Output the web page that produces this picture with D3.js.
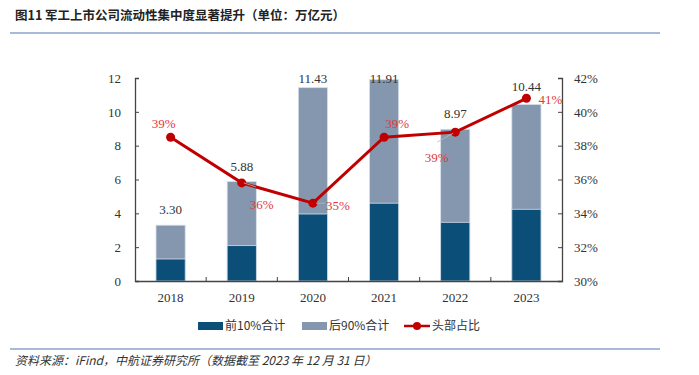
<!DOCTYPE html>
<html>
<head>
<meta charset="utf-8">
<script src="https://cdn.jsdelivr.net/npm/d3@7"></script>
<style>
  body { margin: 0; background: #fff; }
  svg text { font-family: "Liberation Serif", "Noto Sans CJK SC", serif; }
</style>
</head>
<body>
<div id="chart"></div>
<script>
// chart data
var years = ['2018', '2019', '2020', '2021', '2022', '2023'];
var top10 = [1.30, 2.09, 3.96, 4.60, 3.47, 4.24];
var totals = [3.30, 5.88, 11.43, 11.91, 8.97, 10.44];
var share = [38.5, 35.8, 34.6, 38.5, 38.8, 40.8];
var shareLabels = ['39%', '36%', '35%', '39%', '39%', '41%'];
var leftTicks = [0, 2, 4, 6, 8, 10, 12];
var rightTicks = [30, 32, 34, 36, 38, 40, 42];

var svgWidth = 699, svgHeight = 375;
var margin = {top: 78, left: 135, right: 137, bottom: 94};
var width = svgWidth - margin.left - margin.right,
    height = svgHeight - margin.top - margin.bottom;

var darkBlue = '#0b4f79', lightBlue = '#8497ae', red = '#c00000', labelRed = '#e0383c';

var svg = d3.select('#chart').append('svg')
    .attr('width', svgWidth)
    .attr('height', svgHeight);

// title + rules
svg.append('text')
    .attr('x', 15).attr('y', 20)
    .style('font-family', '"Noto Sans CJK SC"')
    .style('font-weight', 'bold')
    .attr('font-size', 12.5)
    .attr('fill', '#222')
    .text('图11  军工上市公司流动性集中度显著提升（单位：万亿元）');
svg.append('line').attr('x1', 10).attr('x2', 660).attr('y1', 33).attr('y2', 33)
    .attr('stroke', '#8ea0cc').attr('stroke-width', 1.5);
svg.append('line').attr('x1', 10).attr('x2', 660).attr('y1', 349).attr('y2', 349)
    .attr('stroke', '#8ea0cc').attr('stroke-width', 1.5);
svg.append('text')
    .attr('x', 15).attr('y', 365)
    .style('font-family', '"Noto Sans CJK SC"')
    .style('font-style', 'italic')
    .attr('font-size', 12)
    .attr('fill', '#333')
    .text('资料来源：iFind，中航证券研究所（数据截至 2023 年 12 月 31 日）');

var g = svg.append('g').attr('transform', `translate(${margin.left}, ${margin.top})`);

var x = d3.scaleBand().domain(years).range([0, width]).paddingInner(0.59).paddingOuter(0.295);
var xOuter = d3.scaleBand().domain(years).range([0, width]);
var y = d3.scaleLinear().domain([0, 12]).range([height, 0]);
var y2 = d3.scaleLinear().domain([30, 42]).range([height, 0]);

// bars: light total then dark top 10%
g.selectAll('.bar-total').data(years).enter().append('rect')
    .attr('x', d => x(d)).attr('width', x.bandwidth())
    .attr('y', (d, i) => y(totals[i]))
    .attr('height', (d, i) => y(0) - y(totals[i]))
    .attr('fill', lightBlue)
    .attr('stroke', '#d8e0ea').attr('stroke-width', 0.8);
g.selectAll('.bar-top').data(years).enter().append('rect')
    .attr('x', d => x(d)).attr('width', x.bandwidth())
    .attr('y', (d, i) => y(top10[i]))
    .attr('height', (d, i) => y(0) - y(top10[i]))
    .attr('fill', darkBlue)
    .attr('stroke', '#d8e0ea').attr('stroke-width', 0.8);

// total labels (baseline offset from bar top; tall bars get pushed down)
var totalOffsets = [-11, -11, -5, 3, -11, -13.5];
g.selectAll('.tot').data(years).enter().append('text')
    .attr('x', d => x(d) + x.bandwidth() / 2)
    .attr('y', (d, i) => y(totals[i]) + totalOffsets[i])
    .attr('text-anchor', 'middle')
    .attr('font-size', 13)
    .attr('fill', '#333')
    .text((d, i) => totals[i].toFixed(2));

// axes
var axisColor = '#444';
var leftAxis = g.append('g').call(d3.axisLeft(y).tickValues(leftTicks).tickSize(-4).tickPadding(14));
var rightAxis = g.append('g').attr('transform', `translate(${width},0)`)
    .call(d3.axisRight(y2).tickValues(rightTicks).tickSize(-4).tickPadding(12).tickFormat(d => d + '%'));
var bottomAxis = g.append('g').attr('transform', `translate(0,${height})`)
    .call(d3.axisBottom(xOuter).tickSize(0).tickPadding(12));
// category separators
g.selectAll('.sep').data(years.slice(1)).enter().append('line')
    .attr('x1', d => xOuter(d)).attr('x2', d => xOuter(d))
    .attr('y1', height).attr('y2', height - 4)
    .attr('stroke', axisColor);
[leftAxis, rightAxis, bottomAxis].forEach(function(a) {
    a.select('.domain').attr('stroke', axisColor).attr('stroke-width', 1.3);
    a.selectAll('.tick line').attr('stroke', axisColor);
    a.selectAll('text').attr('font-size', 13).attr('fill', '#333')
        .style('font-family', '"Liberation Serif", serif');
});

// share line
var cx = d => x(d) + x.bandwidth() / 2;
var line = d3.line().x(d => cx(d)).y((d, i) => y2(share[i]));
g.append('path').datum(years).attr('d', line)
    .attr('fill', 'none').attr('stroke', red).attr('stroke-width', 3);
g.selectAll('.dot').data(years).enter().append('circle')
    .attr('cx', d => cx(d)).attr('cy', (d, i) => y2(share[i]))
    .attr('r', 4.5).attr('fill', red);

// share labels (offsets relative to point)
var labelOffsets = [[-7, -14], [20, 22], [25, 2], [13, -14], [-18.5, 25], [24, 1]];
// leader lines for labels placed away from points
g.append('line')
    .attr('x1', cx('2019') + 2).attr('y1', y2(share[1]))
    .attr('x2', cx('2019') + 14).attr('y2', y2(share[1]) + 4)
    .attr('stroke', '#bbb').attr('stroke-width', 0.8);
g.append('line')
    .attr('x1', cx('2020') + 3).attr('y1', y2(share[2]))
    .attr('x2', cx('2020') + 12).attr('y2', y2(share[2]))
    .attr('stroke', '#bbb').attr('stroke-width', 0.8);
g.append('line')
    .attr('x1', cx('2022') - 2).attr('y1', y2(share[4]) + 1)
    .attr('x2', cx('2022') - 18).attr('y2', y2(share[4]) + 10)
    .attr('stroke', '#bbb').attr('stroke-width', 0.8);
g.selectAll('.share-label').data(years).enter().append('text')
    .attr('x', (d, i) => cx(d) + labelOffsets[i][0])
    .attr('y', (d, i) => y2(share[i]) + labelOffsets[i][1])
    .attr('dy', '0.35em')
    .attr('text-anchor', 'middle')
    .attr('font-size', 13)
    .attr('fill', labelRed)
    .text((d, i) => shareLabels[i]);

// legend
var legend = svg.append('g').attr('transform', 'translate(0, 326)');
var legendFont = '"Noto Sans CJK SC", sans-serif';
legend.append('rect').attr('x', 198).attr('y', -4).attr('width', 25).attr('height', 8).attr('fill', darkBlue);
legend.append('text').attr('x', 225).attr('y', 0).attr('dy', '0.35em').attr('font-size', 12)
    .style('font-family', legendFont).attr('fill', '#333').text('前10%合计');
legend.append('rect').attr('x', 302).attr('y', -4).attr('width', 25).attr('height', 8).attr('fill', lightBlue);
legend.append('text').attr('x', 329).attr('y', 0).attr('dy', '0.35em').attr('font-size', 12)
    .style('font-family', legendFont).attr('fill', '#333').text('后90%合计');
legend.append('line').attr('x1', 404).attr('x2', 430).attr('y1', 0).attr('y2', 0)
    .attr('stroke', red).attr('stroke-width', 2.5);
legend.append('circle').attr('cx', 417).attr('cy', 0).attr('r', 4).attr('fill', red);
legend.append('text').attr('x', 432).attr('y', 0).attr('dy', '0.35em').attr('font-size', 12)
    .style('font-family', legendFont).attr('fill', '#333').text('头部占比');
</script>
</body>
</html>
